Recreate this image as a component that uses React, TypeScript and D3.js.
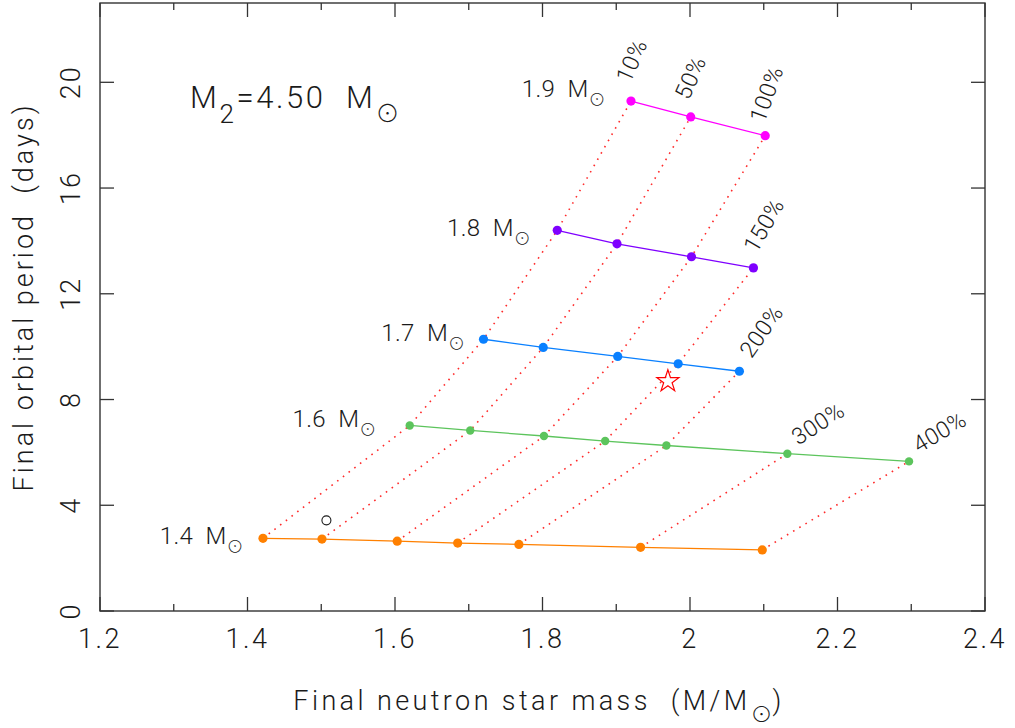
import React from 'react';
import * as d3 from 'd3';

const W = 1015;
const H = 728;

// ---- data ----
const massLabels = ['1.4', '1.6', '1.7', '1.8', '1.9'];
const percentLabels = ['10%', '50%', '100%', '150%', '200%', '300%', '400%'];

const ns14Mass = [1.421, 1.501, 1.603, 1.685, 1.768, 1.933, 2.098];
const ns14Period = [2.75, 2.72, 2.64, 2.57, 2.52, 2.41, 2.31];
const ns16Mass = [1.62, 1.702, 1.802, 1.885, 1.968, 2.132, 2.297];
const ns16Period = [7.02, 6.83, 6.62, 6.43, 6.26, 5.95, 5.66];
const ns17Mass = [1.72, 1.801, 1.902, 1.984, 2.067];
const ns17Period = [10.28, 9.97, 9.63, 9.35, 9.07];
const ns18Mass = [1.82, 1.901, 2.002, 2.086];
const ns18Period = [14.4, 13.89, 13.4, 12.98];
const ns19Mass = [1.92, 2.001, 2.102];
const ns19Period = [19.29, 18.69, 17.98];

const observedMass = [1.97];
const observedPeriod = [8.69];
const openMass = [1.507];
const openPeriod = [3.43];

const xMajorTicks = [1.2, 1.4, 1.6, 1.8, 2.0, 2.2, 2.4];
const xMinorTicks = [1.3, 1.5, 1.7, 1.9, 2.1, 2.3];
const yTicks = [0, 4, 8, 12, 16, 20];

// ---- styles / layout ----
const seriesColors = ['#ff8000', '#5cc45c', '#0a80ff', '#7f00ff', '#ff00ff'];
const markerR = [4.6, 4.2, 4.6, 4.6, 4.6];
// offset of the sun-symbol centre from the first point of each curve (px)
const labelOffsets = [[-28, 8], [-42, 4], [-27, 4], [-35, 8], [-34, -2]];
// percentage label anchor offset from the track end point (px) and rotation (deg)
const pctOffsets = [[-1, -17], [-2, -16], [-1, -12], [3, -14], [12, -12], [11, -8], [10, -8]];
const pctAngles = [66, 66, 70, 60, 55, 33, 31];

const FONT = 'Roboto, "Liberation Sans", sans-serif';
const SUNFONT = '"Noto Sans CJK SC", "DejaVu Sans", sans-serif';
const INK = '#1a1a1a';

const series = [
  { x: ns14Mass, y: ns14Period },
  { x: ns16Mass, y: ns16Period },
  { x: ns17Mass, y: ns17Period },
  { x: ns18Mass, y: ns18Period },
  { x: ns19Mass, y: ns19Period },
];

const L = 100, R = 985, T = 3, B = 611;
const xScale = d3.scaleLinear().domain([1.2, 2.4]).range([L, R]);
const yScale = d3.scaleLinear().domain([0, 23]).range([B, T]);

const lineGen = d3
  .line<[number, number]>()
  .x((d) => xScale(d[0]))
  .y((d) => yScale(d[1]));

const fmt = (v: number) => String(+v.toFixed(1));

export default function App() {
  const percentTracks = percentLabels.map((lab, i) => {
    const pts: [number, number][] = series
      .filter((s) => s.x.length > i)
      .map((s) => [s.x[i], s.y[i]]);
    return { lab, pts };
  });

  const star = d3.symbol().type(d3.symbolStar).size(150)();

  return (
    <svg
      width={W}
      height={H}
      style={{ position: 'absolute', left: 0, top: 0, background: '#fff' }}
      fontFamily={FONT}
    >
      <rect x={0} y={0} width={W} height={H} fill="#fff" />

      {/* frame */}
      <rect x={L} y={T} width={R - L} height={B - T} fill="none" stroke="#333" strokeWidth={1.4} />

      {/* x ticks */}
      {xMajorTicks.map((v) => (
        <g key={'xm' + v}>
          <line x1={xScale(v)} x2={xScale(v)} y1={B} y2={B - 14} stroke="#333" strokeWidth={1.3} />
          <line x1={xScale(v)} x2={xScale(v)} y1={T} y2={T + 14} stroke="#333" strokeWidth={1.3} />
          <text x={xScale(v)} y={648} textAnchor="middle" fontSize={27} fontWeight={300} fill={INK} letterSpacing={2.5}>
            {fmt(v)}
          </text>
        </g>
      ))}
      {xMinorTicks.map((v) => (
        <g key={'xn' + v}>
          <line x1={xScale(v)} x2={xScale(v)} y1={B} y2={B - 7} stroke="#333" strokeWidth={1.3} />
          <line x1={xScale(v)} x2={xScale(v)} y1={T} y2={T + 7} stroke="#333" strokeWidth={1.3} />
        </g>
      ))}
      {/* y ticks */}
      {yTicks.map((v) => (
        <g key={'y' + v}>
          <line x1={L} x2={L + 14} y1={yScale(v)} y2={yScale(v)} stroke="#333" strokeWidth={1.3} />
          <line x1={R} x2={R - 14} y1={yScale(v)} y2={yScale(v)} stroke="#333" strokeWidth={1.3} />
          <text
            transform={`translate(80,${yScale(v)}) rotate(-90)`}
            textAnchor="middle"
            fontSize={27}
            fontWeight={300}
            fill={INK}
            letterSpacing={2}
          >
            {fmt(v)}
          </text>
        </g>
      ))}

      {/* axis titles */}
      <text x={539} y={710} textAnchor="middle" fontSize={27} fontWeight={300} fill={INK} letterSpacing={3.4}>
        Final neutron star mass{'\u00a0\u00a0'}(M/M
        <tspan fontFamily={SUNFONT} fontWeight={300} fontSize={22} dy={12.4} letterSpacing={0}>⊙</tspan>
        <tspan dy={-12.4}>)</tspan>
      </text>
      <text
        transform="translate(33,297) rotate(-90)"
        textAnchor="middle"
        fontSize={27}
        fontWeight={300}
        fill={INK}
        letterSpacing={3}
      >
        Final orbital period{'\u00a0\u00a0'}(days)
      </text>

      {/* M2 annotation */}
      <text x={190} y={108} fontSize={31} fontWeight={300} fill={INK} letterSpacing={2.6}>
        M<tspan fontSize={26} dy={14.7}>2</tspan>
        <tspan dy={-14.7}>=4.50{'\u00a0\u00a0'}M</tspan>
        <tspan fontFamily={SUNFONT} fontWeight={300} fontSize={24} dy={14} letterSpacing={0}>⊙</tspan>
      </text>

      {/* dotted percentage tracks */}
      {percentTracks.map((t) => (
        <path
          key={'trk' + t.lab}
          d={lineGen(t.pts) || ''}
          fill="none"
          stroke="#ff2a2a"
          strokeWidth={1.6}
          strokeDasharray="1.6 5.6"
        />
      ))}

      {/* coloured curves */}
      {series.map((s, k) => (
        <path
          key={'ln' + k}
          d={lineGen(s.x.map((x, i) => [x, s.y[i]] as [number, number])) || ''}
          fill="none"
          stroke={seriesColors[k]}
          strokeWidth={1.3}
        />
      ))}
      {series.map((s, k) =>
        s.x.map((x, i) => (
          <circle key={`pt${k}-${i}`} cx={xScale(x)} cy={yScale(s.y[i])} r={markerR[k]} fill={seriesColors[k]} />
        ))
      )}

      {/* mass labels */}
      {series.map((s, k) => {
        const cx = xScale(s.x[0]) + labelOffsets[k][0];
        const cy = yScale(s.y[0]) + labelOffsets[k][1];
        return (
          <text key={'ml' + k} x={cx + 8.5} y={cy - 2.5} textAnchor="end" fontSize={24} fontWeight={300} fill={INK} letterSpacing={0.3}>
            {massLabels[k]}{'\u00a0\u00a0'}M
            <tspan fontFamily={SUNFONT} fontWeight={300} fontSize={17} dy={9} letterSpacing={0}>⊙</tspan>
          </text>
        );
      })}

      {/* percentage labels */}
      {percentTracks.map((t, i) => {
        const n = t.pts.length;
        const ex = xScale(t.pts[n - 1][0]);
        const ey = yScale(t.pts[n - 1][1]);
        const ax = ex + pctOffsets[i][0];
        const ay = ey + pctOffsets[i][1];
        return (
          <text
            key={'pl' + t.lab}
            transform={`translate(${ax},${ay}) rotate(${-pctAngles[i]})`}
            fontSize={23}
            fontWeight={300}
            fill={INK}
            letterSpacing={0.5}
          >
            {t.lab}
          </text>
        );
      })}

      {/* observed pulsar (star) and open circle */}
      {observedMass.map((m, i) => (
        <path
          key={'st' + i}
          d={star || ''}
          transform={`translate(${xScale(m)},${yScale(observedPeriod[i])})`}
          fill="none"
          stroke="#ff0000"
          strokeWidth={1.2}
        />
      ))}
      {openMass.map((m, i) => (
        <circle key={'oc' + i} cx={xScale(m)} cy={yScale(openPeriod[i])} r={4.5} fill="none" stroke={INK} strokeWidth={1.1} />
      ))}
    </svg>
  );
}
